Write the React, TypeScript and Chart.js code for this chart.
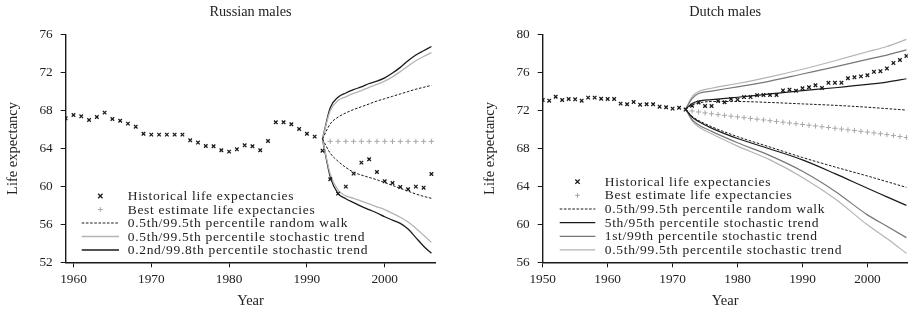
import React, { useEffect, useRef } from "react";
import { Chart, registerables } from "chart.js";
Chart.register(...registerables);

// ---------- Russian males ----------
const ruYears = [
  1959, 1960, 1961, 1962, 1963, 1964, 1965, 1966, 1967, 1968,
  1969, 1970, 1971, 1972, 1973, 1974, 1975, 1976, 1977, 1978,
  1979, 1980, 1981, 1982, 1983, 1984, 1985, 1986, 1987, 1988,
  1989, 1990, 1991, 1992, 1993, 1994, 1995, 1996, 1997, 1998,
  1999, 2000, 2001, 2002, 2003, 2004, 2005, 2006,
];
const ruHist = [
  67.18, 67.53, 67.39, 67.0, 67.32, 67.78, 67.11, 66.93, 66.62, 66.3,
  65.56, 65.46, 65.46, 65.46, 65.46, 65.46, 64.86, 64.62, 64.26, 64.23,
  63.81, 63.67, 63.91, 64.33, 64.23, 63.81, 64.79, 66.76, 66.76, 66.55,
  66.06, 65.56, 65.25, 63.77, 60.75, 59.24, 59.98, 61.35, 62.51, 62.86,
  61.52, 60.54, 60.36, 59.94, 59.7, 59.98, 59.87, 61.31,
];
const ruBestYears = [1993, 1994, 1995, 1996, 1997, 1998, 1999, 2000, 2001, 2002, 2003, 2004, 2005, 2006];
const ruBest = [64.75, 64.75, 64.75, 64.75, 64.75, 64.75, 64.75, 64.75, 64.75, 64.75, 64.75, 64.75, 64.75, 64.75];
const ruFanYears = [1992, 1993, 1994, 1995, 1996, 1997, 1998, 1999, 2000, 2001, 2002, 2003, 2004, 2005, 2006];
const ruRwUpper = [65.0, 66.6, 67.3, 67.75, 68.1, 68.4, 68.7, 69.0, 69.25, 69.5, 69.75, 70.0, 70.25, 70.45, 70.65];
const ruRwLower = [65.0, 63.5, 62.65, 62.0, 61.5, 61.2, 60.95, 60.7, 60.4, 60.1, 59.8, 59.5, 59.2, 58.95, 58.75];
const ruSt995Upper = [65.0, 68.0, 69.05, 69.45, 69.8, 70.1, 70.45, 70.75, 71.1, 71.55, 72.1, 72.7, 73.25, 73.7, 74.1];
const ruSt995Lower = [65.0, 61.3, 59.6, 59.0, 58.75, 58.45, 58.15, 57.85, 57.55, 57.15, 56.75, 56.25, 55.6, 54.85, 54.1];
const ruSt998Upper = [65.0, 68.3, 69.4, 69.85, 70.2, 70.5, 70.85, 71.1, 71.45, 71.95, 72.55, 73.25, 73.85, 74.3, 74.75];
const ruSt998Lower = [65.0, 61.0, 59.25, 58.7, 58.3, 57.9, 57.55, 57.2, 56.8, 56.45, 56.1, 55.5, 54.6, 53.7, 52.95];
const ruXTicks = [1960, 1970, 1980, 1990, 2000];
const ruYTicks = [52, 56, 60, 64, 68, 72, 76];

// ---------- Dutch males ----------
const nlYears = [
  1950, 1951, 1952, 1953, 1954, 1955, 1956, 1957, 1958, 1959,
  1960, 1961, 1962, 1963, 1964, 1965, 1966, 1967, 1968, 1969,
  1970, 1971, 1972, 1973, 1974, 1975, 1976, 1977, 1978, 1979,
  1980, 1981, 1982, 1983, 1984, 1985, 1986, 1987, 1988, 1989,
  1990, 1991, 1992, 1993, 1994, 1995, 1996, 1997, 1998, 1999,
  2000, 2001, 2002, 2003, 2004, 2005, 2006,
];
const nlHist = [
  73.11, 73.04, 73.46, 73.11, 73.22, 73.18, 73.04, 73.36, 73.36, 73.25,
  73.22, 73.22, 72.73, 72.66, 72.9, 72.62, 72.66, 72.66, 72.41, 72.34,
  72.2, 72.3, 72.1, 72.5, 72.85, 72.48, 72.48, 73.0, 72.88, 73.22,
  73.15, 73.42, 73.42, 73.62, 73.64, 73.64, 73.64, 74.12, 74.2, 74.08,
  74.34, 74.46, 74.67, 74.38, 74.92, 74.92, 74.92, 75.4, 75.5, 75.6,
  75.72, 76.08, 76.15, 76.44, 77.02, 77.33, 77.75,
];
const nlBestYears = [
  1973, 1974, 1975, 1976, 1977, 1978, 1979, 1980, 1981, 1982,
  1983, 1984, 1985, 1986, 1987, 1988, 1989, 1990, 1991, 1992,
  1993, 1994, 1995, 1996, 1997, 1998, 1999, 2000, 2001, 2002,
  2003, 2004, 2005, 2006,
];
const nlBest = [
  71.95, 71.85, 71.75, 71.66, 71.57, 71.49, 71.41, 71.33, 71.25, 71.17,
  71.09, 71.01, 70.93, 70.85, 70.77, 70.69, 70.61, 70.53, 70.45, 70.37,
  70.29, 70.21, 70.13, 70.05, 69.97, 69.89, 69.81, 69.73, 69.64, 69.55,
  69.46, 69.36, 69.26, 69.15,
];
const nlFanYears = [1972, 1973, 1974, 1976, 1980, 1985, 1990, 1995, 2000, 2003, 2006];
const nlRwUpper = [72.15, 72.6, 72.8, 72.95, 72.95, 72.85, 72.7, 72.55, 72.35, 72.2, 72.05];
const nlRwLower = [72.15, 71.4, 70.95, 70.3, 69.25, 68.15, 67.05, 66.05, 65.1, 64.5, 63.9];
const nlSt95Upper = [72.15, 72.75, 73.0, 73.15, 73.4, 73.75, 74.1, 74.4, 74.75, 75.0, 75.35];
const nlSt95Lower = [72.15, 71.3, 70.85, 70.15, 69.05, 67.95, 66.8, 65.35, 63.8, 62.9, 62.0];
const nlSt99Upper = [72.15, 73.25, 73.8, 74.05, 74.5, 75.1, 75.85, 76.6, 77.4, 77.85, 78.4];
const nlSt99Lower = [72.15, 71.05, 70.5, 69.8, 68.6, 67.25, 65.6, 63.5, 61.0, 59.8, 58.6];
const nlSt995Upper = [72.15, 73.45, 74.0, 74.35, 74.85, 75.55, 76.35, 77.25, 78.2, 78.75, 79.5];
const nlSt995Lower = [72.15, 70.9, 70.3, 69.55, 68.25, 66.8, 64.95, 62.7, 59.95, 58.5, 56.95];
const nlXTicks = [1950, 1960, 1970, 1980, 1990, 2000];
const nlYTicks = [56, 60, 64, 68, 72, 76, 80];

// ---------- styling ----------
const FONT = "'Liberation Serif', 'Times New Roman', serif";
const TEXT = "#222";
const BLACK = "#1a1a1a";
const MID = "#777";
const LIGHT = "#b4b4b4";

const pts = (xs: number[], ys: number[]) => xs.map((x, i) => ({ x, y: ys[i] }));

function histDs(label: string, xs: number[], ys: number[]) {
  return {
    label, data: pts(xs, ys), showLine: false, pointStyle: "crossRot",
    pointRadius: 2.5, pointBorderWidth: 1.3, borderColor: BLACK, backgroundColor: BLACK,
    order: 0, legendKind: "crossRot", showInLegend: true,
  };
}
function bestDs(label: string, xs: number[], ys: number[]) {
  return {
    label, data: pts(xs, ys), showLine: false, pointStyle: "cross",
    pointRadius: 2.6, pointBorderWidth: 1, borderColor: "#a8a8a8", backgroundColor: "#a8a8a8",
    order: 0, legendKind: "cross", showInLegend: true,
  };
}
function lineDs(label: string, xs: number[], ys: number[], color: string, dash: number[], width: number, legend: boolean) {
  return {
    label, data: pts(xs, ys), showLine: true, borderColor: color, backgroundColor: color,
    borderWidth: width, borderDash: dash, pointRadius: 0, cubicInterpolationMode: "monotone",
    fill: false, order: 1, legendKind: "line", showInLegend: legend,
  };
}

const insideLegend = {
  id: "insideLegend",
  afterDraw(chart: any, _args: any, opts: any) {
    const ctx = chart.ctx as any;
    const items = chart.data.datasets.filter((d: any) => d.showInLegend);
    ctx.save();
    items.forEach((ds: any, i: number) => {
      const y = opts.y0 + i * opts.dy;
      ctx.strokeStyle = ds.borderColor;
      const mx = (opts.sampleL + opts.sampleR) / 2;
      if (ds.legendKind === "line") {
        ctx.lineWidth = ds.borderWidth;
        ctx.setLineDash(ds.borderDash || []);
        ctx.beginPath();
        ctx.moveTo(opts.sampleL, y);
        ctx.lineTo(opts.sampleR, y);
        ctx.stroke();
        ctx.setLineDash([]);
      } else if (ds.legendKind === "crossRot") {
        const r = 2.2;
        ctx.lineWidth = 1.3;
        ctx.beginPath();
        ctx.moveTo(mx - r, y - r); ctx.lineTo(mx + r, y + r);
        ctx.moveTo(mx + r, y - r); ctx.lineTo(mx - r, y + r);
        ctx.stroke();
      } else {
        const r = 2.4;
        ctx.lineWidth = 1;
        ctx.beginPath();
        ctx.moveTo(mx - r, y); ctx.lineTo(mx + r, y);
        ctx.moveTo(mx, y - r); ctx.lineTo(mx, y + r);
        ctx.stroke();
      }
      ctx.fillStyle = TEXT;
      ctx.font = `13.5px ${FONT}`;
      if ("letterSpacing" in ctx) ctx.letterSpacing = "0.7px";
      ctx.textAlign = "left";
      ctx.textBaseline = "middle";
      ctx.fillText(ds.label, opts.textX, y + 0.5);
    });
    ctx.restore();
  },
};

type Cfg = {
  title: string; xMin: number; xMax: number; yMin: number; yMax: number;
  xTicks: number[]; yTicks: number[]; datasets: any[]; legend: any;
  yAxisWidth: number; yTitlePad: number; rightPad: number;
};

function makeConfig(c: Cfg): any {
  const tickFont = { family: FONT, size: 13.3 };
  const titleFont = { family: FONT, size: 14.5 };
  return {
    type: "scatter",
    data: { datasets: c.datasets },
    plugins: [insideLegend],
    options: {
      animation: false,
      responsive: false,
      devicePixelRatio: 1,
      layout: { padding: { left: 0, right: c.rightPad, top: 0, bottom: 0 } },
      plugins: {
        legend: { display: false },
        tooltip: { enabled: false },
        title: {
          display: true, text: c.title, fullSize: false, color: TEXT,
          font: { family: FONT, size: 14.3, weight: "normal" },
          padding: { top: 4, bottom: 13.5 },
        },
        insideLegend: c.legend,
      },
      scales: {
        x: {
          type: "linear", min: c.xMin, max: c.xMax,
          afterBuildTicks: (s: any) => { s.ticks = c.xTicks.map((v) => ({ value: v })); },
          afterFit: (s: any) => { s.height = 48.7; },
          ticks: { callback: (v: any) => String(v), font: tickFont, color: TEXT, padding: 4, maxRotation: 0, autoSkip: false },
          grid: { drawOnChartArea: false, drawTicks: true, tickLength: 5, color: BLACK, lineWidth: 1 },
          border: { display: true, color: BLACK, width: 1.4 },
          title: { display: true, text: "Year", font: titleFont, color: TEXT, padding: { top: 0, bottom: 1.5 } },
        },
        y: {
          type: "linear", min: c.yMin, max: c.yMax,
          afterBuildTicks: (s: any) => { s.ticks = c.yTicks.map((v) => ({ value: v })); },
          afterFit: (s: any) => { s.width = c.yAxisWidth; },
          ticks: { callback: (v: any) => String(v), font: tickFont, color: TEXT, padding: 8, autoSkip: false },
          grid: { drawOnChartArea: false, drawTicks: true, tickLength: 5, color: BLACK, lineWidth: 1 },
          border: { display: true, color: BLACK, width: 1.4 },
          title: { display: true, text: "Life expectancy", font: titleFont, color: TEXT, padding: { top: c.yTitlePad, bottom: 0 } },
        },
      },
    },
  };
}

function ChartBox(props: { cfg: Cfg; width: number; height: number; left: number }) {
  const ref = useRef<HTMLCanvasElement | null>(null);
  useEffect(() => {
    if (!ref.current) return;
    const chart = new Chart(ref.current, makeConfig(props.cfg));
    return () => chart.destroy();
  }, []);
  return (
    <canvas
      ref={ref}
      width={props.width}
      height={props.height}
      style={{ position: "absolute", left: props.left, top: 0, width: props.width, height: props.height, display: "block" }}
    />
  );
}

const ruCfg: Cfg = {
  title: "Russian males", xMin: 1959, xMax: 2006.5, yMin: 52, yMax: 76,
  xTicks: ruXTicks, yTicks: ruYTicks, yAxisWidth: 65.7, yTitlePad: 4.5, rightPad: 20.7,
  legend: { y0: 196, dy: 13.5, sampleL: 81.7, sampleR: 119, textX: 127.7 },
  datasets: [
    histDs("Historical life expectancies", ruYears, ruHist),
    bestDs("Best estimate life expectancies", ruBestYears, ruBest),
    lineDs("0.5th/99.5th percentile random walk", ruFanYears, ruRwUpper, BLACK, [2.6, 1.6], 1, true),
    lineDs("0.5th/99.5th percentile random walk", ruFanYears, ruRwLower, BLACK, [2.6, 1.6], 1, false),
    lineDs("0.5th/99.5th percentile stochastic trend", ruFanYears, ruSt995Upper, LIGHT, [], 1.3, true),
    lineDs("0.5th/99.5th percentile stochastic trend", ruFanYears, ruSt995Lower, LIGHT, [], 1.3, false),
    lineDs("0.2nd/99.8th percentile stochastic trend", ruFanYears, ruSt998Upper, BLACK, [], 1.3, true),
    lineDs("0.2nd/99.8th percentile stochastic trend", ruFanYears, ruSt998Lower, BLACK, [], 1.3, false),
  ],
};

const nlCfg: Cfg = {
  title: "Dutch males", xMin: 1950, xMax: 2006.2, yMin: 56, yMax: 80,
  xTicks: nlXTicks, yTicks: nlYTicks, yAxisWidth: 86.7, yTitlePad: 25.5, rightPad: 2.7,
  legend: { y0: 181.7, dy: 13.65, sampleL: 103.7, sampleR: 139.3, textX: 148.7 },
  datasets: [
    histDs("Historical life expectancies", nlYears, nlHist),
    bestDs("Best estimate life expectancies", nlBestYears, nlBest),
    lineDs("0.5th/99.5th percentile random walk", nlFanYears, nlRwUpper, BLACK, [2.6, 1.6], 1, true),
    lineDs("0.5th/99.5th percentile random walk", nlFanYears, nlRwLower, BLACK, [2.6, 1.6], 1, false),
    lineDs("5th/95th percentile stochastic trend", nlFanYears, nlSt95Upper, BLACK, [], 1.2, true),
    lineDs("5th/95th percentile stochastic trend", nlFanYears, nlSt95Lower, BLACK, [], 1.2, false),
    lineDs("1st/99th percentile stochastic trend", nlFanYears, nlSt99Upper, MID, [], 1.2, true),
    lineDs("1st/99th percentile stochastic trend", nlFanYears, nlSt99Lower, MID, [], 1.2, false),
    lineDs("0.5th/99.5th percentile stochastic trend", nlFanYears, nlSt995Upper, LIGHT, [], 1.2, true),
    lineDs("0.5th/99.5th percentile stochastic trend", nlFanYears, nlSt995Lower, LIGHT, [], 1.2, false),
  ],
};

export default function App() {
  return (
    <div style={{ position: "absolute", left: 0, top: 0, width: 913, height: 311, background: "#fff", overflow: "hidden" }}>
      <ChartBox cfg={ruCfg} width={456} height={311} left={0} />
      <ChartBox cfg={nlCfg} width={457} height={311} left={456} />
    </div>
  );
}
